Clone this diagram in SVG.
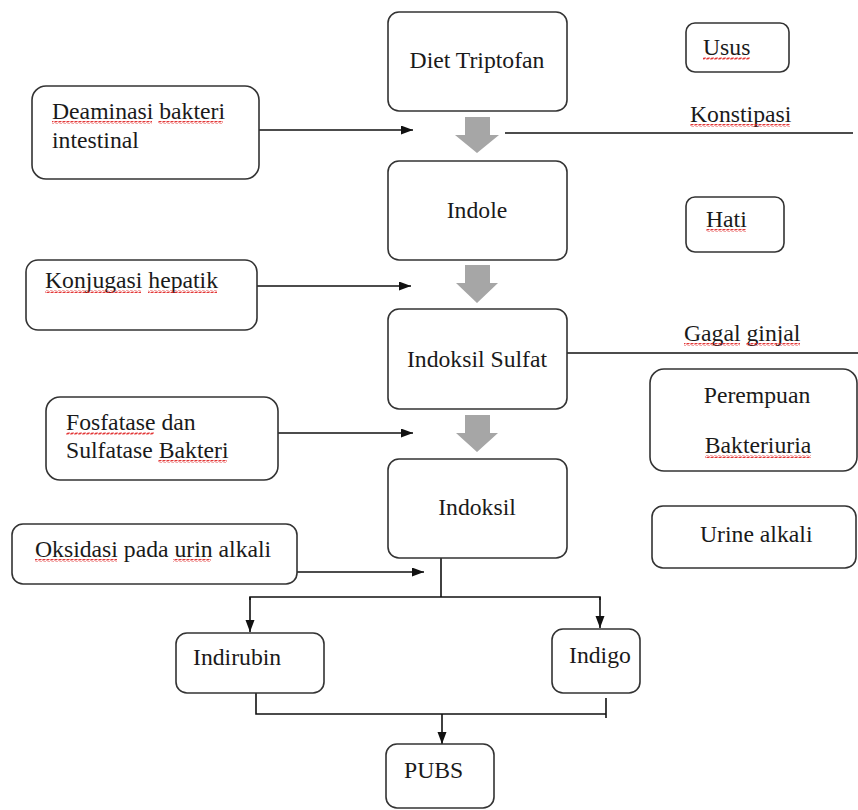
<svg xmlns="http://www.w3.org/2000/svg" width="858" height="810" viewBox="0 0 858 810">
<style>
.box{fill:#fff;stroke:#333;stroke-width:1.6}
.t{font-family:'Liberation Serif','Times New Roman',serif;font-size:23.7px;fill:#1a1a1a}
.c{text-anchor:middle}
.ln{stroke:#111;stroke-width:1.6;fill:none}
.blk{fill:#a6a6a6}
.sq{fill:url(#sq)}
</style>
<defs>
<marker id="ah" markerUnits="userSpaceOnUse" markerWidth="13" markerHeight="10" refX="12" refY="4.5" orient="auto">
<path d="M0,0 L12,4.5 L0,9 z" fill="#111"/>
</marker>
<pattern id="sq" width="4" height="3" patternUnits="userSpaceOnUse">
<path d="M0 2.5 L1 0.5 L3 2.5 L4 0.5" stroke="#e02020" stroke-width="0.9" fill="none"/>
</pattern>
</defs>
<rect width="858" height="810" fill="#fff"/>

<g id="connectors">
<line class="ln" x1="259" y1="130" x2="413" y2="130" marker-end="url(#ah)"/>
<line class="ln" x1="257" y1="286" x2="411" y2="286" marker-end="url(#ah)"/>
<line class="ln" x1="278" y1="433" x2="413" y2="433" marker-end="url(#ah)"/>
<line class="ln" x1="297" y1="572" x2="424" y2="572" marker-end="url(#ah)"/>
<line class="ln" x1="505" y1="133" x2="853" y2="133"/>
<line class="ln" x1="567" y1="353" x2="858" y2="353"/>
<line class="ln" x1="441" y1="558" x2="441" y2="597"/>
<polyline class="ln" points="250,600 250,597 600,597 600,600"/>
<line class="ln" x1="250" y1="597" x2="250" y2="632" marker-end="url(#ah)"/>
<line class="ln" x1="600" y1="597" x2="600" y2="628" marker-end="url(#ah)"/>
<polyline class="ln" points="256,693 256,714 606,714"/>
<line class="ln" x1="606" y1="698" x2="606" y2="718"/>
<line class="ln" x1="442" y1="714" x2="442" y2="744" marker-end="url(#ah)"/>
<polygon class="blk" points="465,117 490,117 490,135 499,135 477,153 455,135 465,135"/>
<polygon class="blk" points="465,265 490,265 490,283 498,283 477,303 456,283 465,283"/>
<polygon class="blk" points="465,415 490,415 490,433 498,433 477,452 456,433 465,433"/>
</g>

<g id="diet">
<rect class="box" x="388" y="12" width="179" height="99" rx="11"/>
<text class="t c" x="477" y="68">Diet Triptofan</text>
</g>
<g id="indole">
<rect class="box" x="388" y="161" width="179" height="99" rx="11"/>
<text class="t c" x="477" y="218">Indole</text>
</g>
<g id="indoksil-sulfat">
<rect class="box" x="388" y="309" width="179" height="100" rx="11"/>
<text class="t c" x="477" y="367">Indoksil Sulfat</text>
</g>
<g id="indoksil">
<rect class="box" x="388" y="459" width="179" height="99" rx="11"/>
<text class="t c" x="477" y="515">Indoksil</text>
</g>

<g id="usus">
<rect class="box" x="686" y="23" width="103" height="49" rx="9"/>
<text class="t" x="703" y="55">Usus</text>
<rect class="sq" x="703" y="57" width="47" height="3"/>
</g>
<g id="konstipasi">
<text class="t" x="690" y="122">Konstipasi</text>
<rect class="sq" x="690" y="124" width="100" height="3"/>
</g>
<g id="hati">
<rect class="box" x="686" y="197" width="98" height="55" rx="9"/>
<text class="t" x="706" y="227">Hati</text>
<rect class="sq" x="706" y="229" width="40" height="3"/>
</g>
<g id="gagal-ginjal">
<text class="t" x="684" y="341">Gagal ginjal</text>
<rect class="sq" x="684" y="343" width="56" height="3"/>
<rect class="sq" x="746" y="343" width="54" height="3"/>
</g>
<g id="perempuan">
<rect class="box" x="650" y="369" width="207" height="102" rx="14"/>
<text class="t c" x="757" y="403">Perempuan</text>
<text class="t c" x="758" y="453">Bakteriuria</text>
<rect class="sq" x="705" y="455" width="106" height="3"/>
</g>
<g id="urine-alkali">
<rect class="box" x="652" y="506" width="204" height="62" rx="11"/>
<text class="t" x="700" y="542">Urine alkali</text>
</g>

<g id="deaminasi">
<rect class="box" x="32" y="86" width="227" height="93" rx="14"/>
<text class="t" x="52" y="119">Deaminasi bakteri</text>
<text class="t" x="52" y="148">intestinal</text>
<rect class="sq" x="52" y="121" width="100" height="3"/>
<rect class="sq" x="158" y="121" width="65" height="3"/>
</g>
<g id="konjugasi">
<rect class="box" x="26" y="260" width="231" height="70" rx="12"/>
<text class="t" x="45" y="288">Konjugasi hepatik</text>
<rect class="sq" x="45" y="290" width="96" height="3"/>
<rect class="sq" x="148" y="290" width="69" height="3"/>
</g>
<g id="fosfatase">
<rect class="box" x="46" y="397" width="232" height="83" rx="14"/>
<text class="t" x="66" y="430">Fosfatase dan</text>
<text class="t" x="66" y="458">Sulfatase Bakteri</text>
<rect class="sq" x="66" y="432" width="88" height="3"/>
<rect class="sq" x="158" y="460" width="69" height="3"/>
</g>
<g id="oksidasi">
<rect class="box" x="12" y="524" width="285" height="60" rx="11"/>
<text class="t" x="35" y="557">Oksidasi pada urin alkali</text>
<rect class="sq" x="35" y="559" width="82" height="3"/>
<rect class="sq" x="173" y="559" width="38" height="3"/>
</g>

<g id="indirubin">
<rect class="box" x="176" y="633" width="148" height="60" rx="11"/>
<text class="t" x="193" y="665">Indirubin</text>
</g>
<g id="indigo">
<rect class="box" x="552" y="629" width="88" height="64" rx="11"/>
<text class="t" x="569" y="663">Indigo</text>
</g>
<g id="pubs">
<rect class="box" x="386" y="744" width="108" height="64" rx="11"/>
<text class="t" x="404" y="778">PUBS</text>
</g>
</svg>
